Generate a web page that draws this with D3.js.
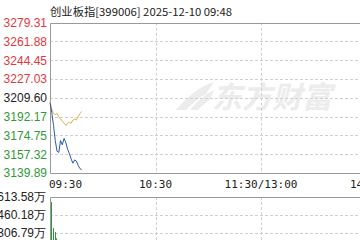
<!DOCTYPE html>
<html><head><meta charset="utf-8">
<script src="https://cdn.jsdelivr.net/npm/d3@7"></script>
<style>body{margin:0;background:#fff;overflow:hidden}svg{display:block}</style>
</head><body><svg id="c" width="360" height="240"></svg>
<script>
const title = "创业板指[399006] 2025-12-10 09:48";
const priceTicks = [3279.31, 3261.88, 3244.45, 3227.03, 3209.60, 3192.17, 3174.75, 3157.32, 3139.89];
const preClose = 3209.60;
const timeTickIdx = [0, 60, 120, 180, 240];
const timeTickLabels = ["09:30", "10:30", "11:30/13:00", "14:00", "15:00"];
const volTicks = [613.58, 460.18, 306.79, 153.39];
const volTickLabels = ["613.58万", "460.18万", "306.79万", "153.39万"];
const minuteIdx = [0,1,2,3,4,5,6,7,8,9,10,11,12,13,14,15,16,17,18];
const price = [3205,3196,3184,3170,3160,3159,3170,3166,3172,3168,3162,3158,3153,3149,3152,3151,3147,3144,3143];
const avgPrice = [3206,3199,3195,3194,3195,3192,3190,3188,3186,3184,3186,3187,3186,3189,3190,3189,3192,3195,3197];
const volume = [570,350,315,262,210,180,170,160,150,140,150,135,130,125,120,118,115,110,108];

const svg = d3.select("#c");
const L = 50, T = 22.7, B = 173;
const x = d3.scaleLinear().domain([0, 240]).range([L, L + 240 * 105.5 / 60]);
const y = d3.scaleLinear().domain([priceTicks[8], priceTicks[0]]).range([B, T]);
const vy = d3.scaleLinear().domain([0, 613.58]).range([269, 197]);

// watermark
const wm = svg.append("g").attr("fill", "#ececec");
wm.append("path").attr("d", "M176,110 C188,96 200,86 214,82 L206,94 C198,98 192,104 186,110 Z M190,110 C198,100 206,94 214,90 L210,100 C204,104 200,107 198,110 Z");
wm.append("text").attr("x", 212).attr("y", 108).attr("font-family", "Noto Sans CJK SC").attr("font-weight", "bold")
  .attr("font-size", 30).attr("font-style", "italic").text("东方财富");

// grid
const grid = svg.append("g").attr("stroke", "#d0d0d0").attr("stroke-dasharray", "3,2").attr("stroke-width", 1);
priceTicks.slice(1, 8).forEach(v => grid.append("line").attr("x1", L).attr("x2", 360).attr("y1", Math.round(y(v)) + 0.5).attr("y2", Math.round(y(v)) + 0.5));
timeTickIdx.slice(1, 4).forEach(i => {
  const xx = Math.round(x(i)) + 0.5;
  grid.append("line").attr("x1", xx).attr("x2", xx).attr("y1", T).attr("y2", B);
  grid.append("line").attr("x1", xx).attr("x2", xx).attr("y1", 197).attr("y2", 269);
});
volTicks.slice(1).forEach(v => grid.append("line").attr("x1", L).attr("x2", 360).attr("y1", Math.round(vy(v)) + 0.5).attr("y2", Math.round(vy(v)) + 0.5));

// frames
const fr = svg.append("g").attr("stroke", "#999").attr("fill", "none");
fr.append("path").attr("d", `M360,${Math.round(T)+0.5}H${L+0.5}V${B+0.5}H360`);
fr.append("path").attr("d", `M360,197.5H${L+0.5}V269`);

// y labels
svg.append("g").selectAll("text").data(priceTicks).join("text")
  .attr("x", 47).attr("y", d => y(d)).attr("dy", "0.36em").attr("text-anchor", "end")
  .attr("font-family", "Liberation Sans, Arial").attr("font-size", 12)
  .attr("fill", d => d > preClose ? "#e0383c" : d < preClose ? "#2f9a35" : "#222")
  .text(d => d.toFixed(2));

// time labels
svg.append("g").selectAll("text").data(timeTickIdx).join("text")
  .attr("x", (d, i) => i === 0 ? L - 1 : x(d)).attr("y", 188)
  .attr("text-anchor", (d, i) => i === 0 ? "start" : i === 4 ? "end" : "middle")
  .attr("font-family", "DejaVu Sans Mono").attr("font-size", 11).attr("fill", "#222")
  .text((d, i) => timeTickLabels[i]);

// volume labels
svg.append("g").selectAll("text").data(volTicks).join("text")
  .attr("x", 46).attr("y", d => vy(d)).attr("dy", "0.36em").attr("text-anchor", "end")
  .attr("font-family", "Liberation Sans, Arial").attr("font-size", 12).attr("fill", "#222")
  .text((d, i) => volTickLabels[i]);

// volume bars
svg.append("g").selectAll("line").data(minuteIdx).join("line")
  .attr("x1", i => Math.round(x(i)) + 1.5).attr("x2", i => Math.round(x(i)) + 1.5)
  .attr("y1", i => vy(volume[i])).attr("y2", 269)
  .attr("stroke", i => (i > 0 && price[i] > price[i-1]) ? "#e0383c" : "#2f9a35").attr("stroke-width", 1);

// lines
const line = d3.line().x(i => x(i)).y((i, k, arr) => 0);
svg.append("path").datum(minuteIdx).attr("fill", "none").attr("stroke", "#e0b04a").attr("stroke-width", 1)
  .attr("d", d3.line().x(i => x(i)).y(i => y(avgPrice[i])));
svg.append("path").datum(minuteIdx).attr("fill", "none").attr("stroke", "#2a5aa8").attr("stroke-width", 1)
  .attr("d", d3.line().x(i => x(i)).y(i => y(price[i])));

// title
svg.append("text").attr("x", 50).attr("y", 16).attr("font-family", "Noto Sans CJK SC").attr("font-size", 11)
  .attr("fill", "#222").attr("textLength", 182).attr("lengthAdjust", "spacingAndGlyphs").text(title);
</script></body></html>
